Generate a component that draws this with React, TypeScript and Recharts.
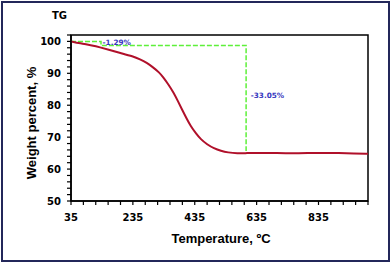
import { LineChart, Line, XAxis, YAxis, ReferenceArea, ReferenceDot } from 'recharts';

// TG curve
const temps = [35, 63, 106, 127, 160, 193, 236, 258, 280, 300, 320, 334, 350, 367, 380, 394, 410, 421, 440, 454, 475, 497, 520, 541, 574, 600, 650, 700, 750, 800, 850, 900, 950, 995];
const weights = [100, 99.4, 98.7, 98.2, 97.3, 96.4, 95.3, 94.4, 93.3, 91.9, 90.3, 88.7, 86.5, 83.9, 81.4, 78.6, 75.6, 73.6, 71.0, 69.4, 67.7, 66.5, 65.7, 65.2, 64.9, 65.0, 65.1, 65.0, 64.9, 65.0, 65.1, 65.0, 64.9, 64.8];

// green construction lines for the two mass losses
const stepTemps = [35, 132, 132, 601, 601];
const stepWeights = [100, 100, 98.71, 98.71, 65.66];

const xTicks = [35, 75, 115, 155, 195, 235, 275, 315, 355, 395, 435, 475, 515, 555, 595, 635, 675, 715, 755, 795, 835, 875, 915, 955, 995];
const xMajor = [35, 235, 435, 635, 835];
const yTicks = [50, 52, 54, 56, 58, 60, 62, 64, 66, 68, 70, 72, 74, 76, 78, 80, 82, 84, 86, 88, 90, 92, 94, 96, 98, 100, 102];
const yMajor = [50, 60, 70, 80, 90, 100];

const data = temps.map((t, i) => ({ t, w: weights[i] }));
const stepData = stepTemps.map((t, i) => ({ t, w: stepWeights[i] }));

const tickFont = { fontFamily: '"DejaVu Sans", sans-serif', fontWeight: 700, fontSize: 10, fill: '#000' };

function XTick({ x, y, payload }: any) {
  if (!xMajor.includes(payload.value)) return <g />;
  return <text x={x} y={y} dy="0.71em" textAnchor="middle" {...tickFont}>{payload.value}</text>;
}

function YTick({ x, y, payload }: any) {
  if (!yMajor.includes(payload.value)) return <g />;
  return <text x={x} y={y} dy="0.36em" textAnchor="end" {...tickFont}>{payload.value}</text>;
}

const note = (text: string) => ({ viewBox }: any) => (
  <text x={viewBox.x} y={viewBox.y} dy="0.35em" fontFamily='"DejaVu Sans", sans-serif'
    fontWeight={700} fontSize={7.3} fill="#3838c0">{text}</text>
);

export default function App() {
  return (
    <div style={{ position: 'absolute', left: 0, top: 0, width: 392, height: 263, background: '#fff' }}>
      <div style={{ position: 'absolute', left: 1, top: 1, width: 389, height: 261, border: '2px solid #23275a', boxSizing: 'border-box' }} />
      <div style={{ position: 'absolute', left: 52, top: 10, fontFamily: '"DejaVu Sans", sans-serif', fontWeight: 700, fontSize: 10 }}>TG</div>
      <LineChart width={392} height={263} margin={{ top: 35, right: 24, bottom: 32, left: 31 }}>
        <XAxis type="number" dataKey="t" domain={[35, 995]} ticks={xTicks} interval={0} height={30}
          tick={<XTick />} tickSize={4} tickMargin={9} allowDataOverflow
          axisLine={{ stroke: '#000', strokeWidth: 1.5 }} tickLine={{ stroke: '#000', strokeWidth: 1.2 }} />
        <YAxis type="number" domain={[50, 102]} ticks={yTicks} interval={0} width={40}
          tick={<YTick />} tickSize={4} tickMargin={6} allowDataOverflow
          axisLine={{ stroke: '#000', strokeWidth: 1.5 }} tickLine={{ stroke: '#000', strokeWidth: 1.2 }} />
        <ReferenceArea x1={35} x2={995} y1={50} y2={102} fill="none" stroke="#000" strokeWidth={1.5} />
        <Line data={stepData} dataKey="w" type="linear" stroke="#5ef03a" strokeWidth={1.5} strokeDasharray="5 2" dot={false} isAnimationActive={false} />
        <Line data={data} dataKey="w" type="basis" stroke="#b0102a" strokeWidth={2} dot={false} isAnimationActive={false} />
        <ReferenceDot x={137} y={99.8} r={0} stroke="none" label={note('-1.29%')} />
        <ReferenceDot x={616} y={83} r={0} stroke="none" label={note('-33.05%')} />
      </LineChart>
      <div style={{ position: 'absolute', left: 221, top: 238, transform: 'translate(-50%, -50%)', whiteSpace: 'nowrap', fontFamily: '"Liberation Sans", Arial, sans-serif', fontWeight: 700, fontSize: 13 }}>
        Temperature, ºC
      </div>
      <div style={{ position: 'absolute', left: 31, top: 123, transform: 'translate(-50%, -50%) rotate(-90deg)', whiteSpace: 'nowrap', fontFamily: '"Liberation Sans", Arial, sans-serif', fontWeight: 700, fontSize: 13 }}>
        Weight percent, %
      </div>
    </div>
  );
}
